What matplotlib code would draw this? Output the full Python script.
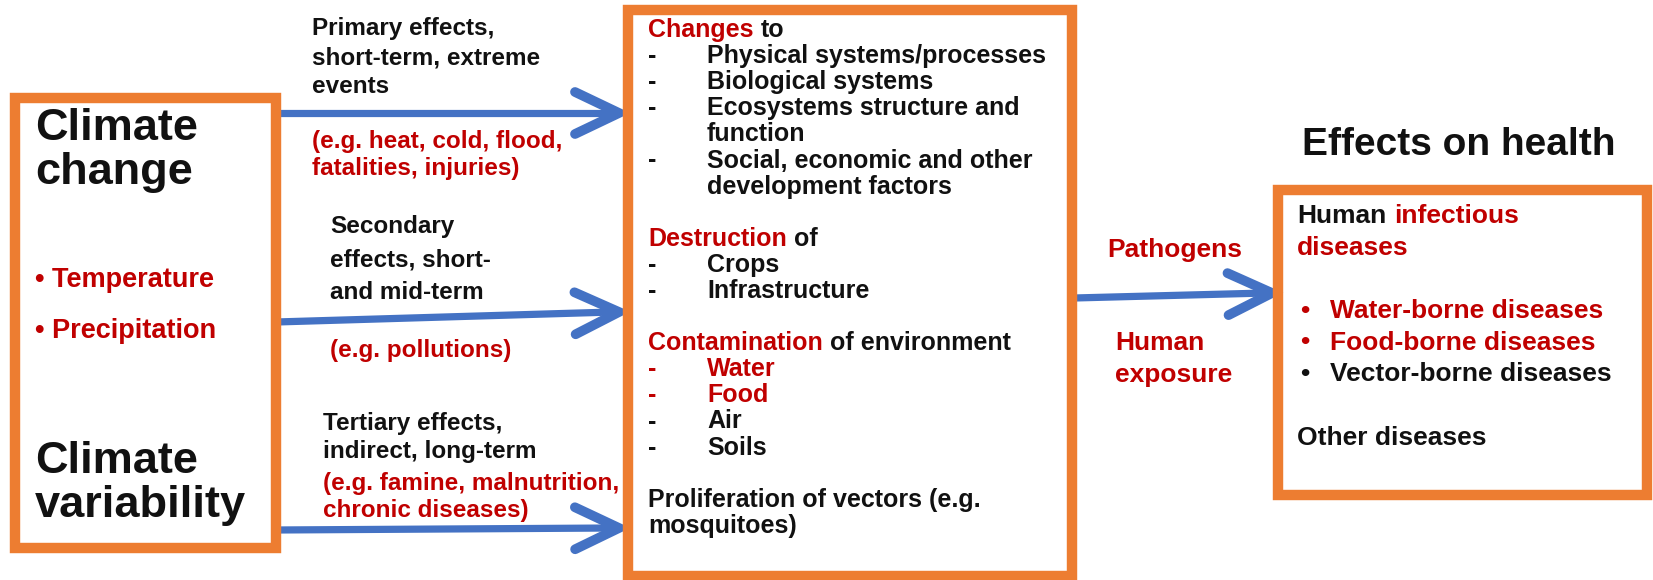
import matplotlib.pyplot as plt
from matplotlib.patches import Rectangle
import numpy as np

# Text content of the diagram
left_titles = [["Climate", "change"], ["Climate", "variability"]]
climate_factors = ["Temperature", "Precipitation"]
effect_labels = [["Primary effects,", "short-term, extreme", "events"],
                 ["Secondary", "effects, short-", "and mid-term"],
                 ["Tertiary effects,", "indirect, long-term"]]
effect_examples = [["(e.g. heat, cold, flood,", "fatalities, injuries)"],
                   ["(e.g. pollutions)"],
                   ["(e.g. famine, malnutrition,", "chronic diseases)"]]
changes_to = ["Physical systems/processes", "Biological systems",
              "Ecosystems structure and\nfunction",
              "Social, economic and other\ndevelopment factors"]
destruction_of = ["Crops", "Infrastructure"]
contamination_of = ["Water", "Food", "Air", "Soils"]
contamination_red = ["Water", "Food"]
proliferation = ["Proliferation of vectors (e.g.", "mosquitoes)"]
pathway_labels = [["Pathogens"], ["Human", "exposure"]]
health_title = "Effects on health"
infectious = ["Water-borne diseases", "Food-borne diseases", "Vector-borne diseases"]
infectious_red = ["Water-borne diseases", "Food-borne diseases"]
other_diseases = "Other diseases"

ORANGE = '#ED7D31'
RED = '#C00000'
BLUE = '#4472C4'
BLACK = '#111111'

plt.rcParams['font.family'] = ['Liberation Sans', 'DejaVu Sans']

W, H = 1653, 580
fig = plt.figure(figsize=(W / 100, H / 100), dpi=100)
ax = fig.add_axes([0, 0, 1, 1])
ax.set_xlim(0, W)
ax.set_ylim(H, 0)
ax.axis('off')
renderer = fig.canvas.get_renderer()

BODY = 17.5   # labels along arrows
MID = 18.0    # middle box
RIGHT = 19.0  # right box + pathway labels


def txt(x, y, s, color=BLACK, size=BODY, **kw):
    return ax.text(x, y, s, color=color, fontsize=size, fontweight='bold',
                   va='baseline', **kw)


def measure(s, size=BODY):
    t = txt(0, 0, s, size=size)
    w = t.get_window_extent(renderer).width
    t.remove()
    return w


def two_tone(x, y, first, c1, rest, c2, size=BODY):
    txt(x, y, first, c1, size)
    full = measure(first + ' ' + rest, size)
    txt(x + full, y, rest, c2, size, ha='right')


def lines(x, y0, rows, color=BLACK, step=29, size=BODY):
    for i, r in enumerate(rows):
        txt(x, y0 + i * step, r, color, size)


def box(x0, y0, x1, y1):
    ax.add_patch(Rectangle((x0, y0), x1 - x0, y1 - y0, fill=False,
                           edgecolor=ORANGE, lw=7.5, zorder=3))


def arrow(x0, y0, x1, y1, back=44, half=21):
    ax.plot([x0, x1 - 6], [y0, y1], color=BLUE, lw=5.2, solid_capstyle='butt', zorder=2)
    d = np.array([x1 - x0, y1 - y0], float)
    d /= np.hypot(*d)
    n = np.array([-d[1], d[0]])
    tip = np.array([x1, y1], float)
    p1 = tip - back * d + half * n
    p2 = tip - back * d - half * n
    ax.plot([p1[0], tip[0], p2[0]], [p1[1], tip[1], p2[1]], color=BLUE, lw=7,
            solid_capstyle='round', solid_joinstyle='miter', zorder=2)


# boxes
box(15, 98, 276, 548)
box(628, 10, 1072, 576)
box(1278, 190, 1647, 495)

# arrows
arrow(276, 113, 619, 113)
arrow(276, 322, 619, 312)
arrow(276, 530, 619, 528)
arrow(1074, 298, 1272, 293)

# left box
TITLE = 32.5
for (ly, title) in zip([140, 473], left_titles):
    lines(35, ly, title, step=44, size=TITLE)
for ly, f in zip([287, 338], climate_factors):
    txt(35, ly, '\u2022 ' + f, RED, 19.5)

# labels along the arrows
label_pos = [(312, 35, 29), (330, 233, 33), (323, 430, 28)]
example_pos = [(312, 148), (330, 357), (323, 490)]
for (x, y, st), lab in zip(label_pos, effect_labels):
    lines(x, y, lab, step=st)
for (x, y), ex in zip(example_pos, effect_examples):
    lines(x, y, ex, RED, step=27)

# middle box
MX, DX, IX = 648, 648, 707
STEP = 26.1
rows = [('head', 'Changes', 'to')]
for item in changes_to:
    for k, part in enumerate(item.split('\n')):
        rows.append(('item' if k == 0 else 'cont', part, BLACK))
rows.append(None)
rows.append(('head', 'Destruction', 'of'))
for item in destruction_of:
    rows.append(('item', item, BLACK))
rows.append(None)
rows.append(('head', 'Contamination', 'of environment'))
for item in contamination_of:
    rows.append(('item', item, RED if item in contamination_red else BLACK))
rows.append(None)
for part in proliferation:
    rows.append(('plain', part, BLACK))

for i, r in enumerate(rows):
    if r is None:
        continue
    y = 37 + i * STEP
    kind, a, b = r
    if kind == 'head':
        two_tone(MX, y, a, RED, b, BLACK, MID)
    elif kind == 'item':
        txt(DX, y, '-', b, MID)
        txt(IX, y, a, b, MID)
    elif kind == 'cont':
        txt(IX, y, a, b, MID)
    else:
        txt(MX, y, a, b, MID)

# pathway labels
txt(1107, 257, pathway_labels[0][0], RED, RIGHT)
lines(1115, 350, pathway_labels[1], RED, step=32, size=RIGHT)

# right side
txt(1302, 155, health_title, BLACK, 28)
RX = 1297
two_tone(RX, 223, 'Human', BLACK, 'infectious', RED, RIGHT)
txt(RX, 255, 'diseases', RED, RIGHT)
for k, d in enumerate(infectious):
    c = RED if d in infectious_red else BLACK
    y = 318 + k * 31.5
    txt(1300, y, '\u2022', c, RIGHT)
    txt(1330, y, d, c, RIGHT)
txt(RX, 445, other_diseases, BLACK, RIGHT)

fig.savefig('out.png', dpi=100, facecolor='white')
